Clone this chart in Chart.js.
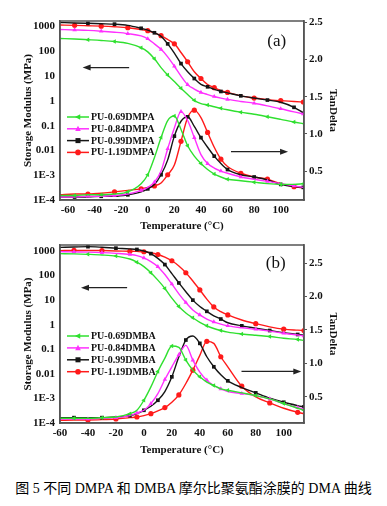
<!DOCTYPE html>
<html>
<head>
<meta charset="utf-8">
<script src="https://cdn.jsdelivr.net/npm/chart.js@4.4.0/dist/chart.umd.min.js"></script>
<style>
  html, body { margin: 0; padding: 0; background: #fff; }
  #wrap { position: relative; width: 387px; height: 506px; }
  canvas { display: block; }
  #caption { position: absolute; left: 0; top: 477px; width: 387px; text-align: center; line-height: 16px;
    font: 14px "Liberation Serif", "Noto Sans CJK SC", serif; color: #000; }
</style>
</head>
<body>
<div id="wrap">
  <canvas id="chartA" width="387" height="233"></canvas>
  <canvas id="chartB" width="387" height="227"></canvas>
  <div id="caption">图 5 不同 DMPA 和 DMBA 摩尔比聚氨酯涂膜的 DMA 曲线</div>
</div>
<script>
// ---- data ----
const seriesA = ["PU-0.69DMPA", "PU-0.84DMPA", "PU-0.99DMPA", "PU-1.19DMPA"];
const seriesB = ["PU-0.69DMBA", "PU-0.84DMBA", "PU-0.99DMBA", "PU-1.19DMBA"];

const xTicks = [-60, -40, -20, 0, 20, 40, 60, 80, 100];
const logTicks = [1e-4, 1e-3, 0.01, 0.1, 1, 10, 100, 1000];
const logTickLabels = ["1E-4", "1E-3", "0.01", "0.1", "1", "10", "100", "1000"];
const tanTicks = [0.5, 1.0, 1.5, 2.0, 2.5];
const tanTickLabels = ["0.5", "1.0", "1.5", "2.0", "2.5"];

// panel (a), DMPA
const tempA = [-66, -55, -45, -35, -25, -15, -5, 0, 5, 10, 15, 20, 25, 30, 35, 40, 45, 50, 55, 60, 70, 80, 90, 100, 110, 117];
const modA069 = [330, 315, 295, 275, 250, 210, 140, 95, 50, 22, 11, 6, 3.2, 1.8, 1.05, 0.78, 0.68, 0.58, 0.5, 0.44, 0.35, 0.29, 0.23, 0.18, 0.14, 0.12];
const modA084 = [760, 730, 700, 650, 590, 520, 420, 320, 200, 120, 60, 25, 10, 4.5, 3.0, 2.2, 1.8, 1.5, 1.3, 1.15, 0.95, 0.8, 0.63, 0.48, 0.36, 0.3];
const modA099 = [1450, 1400, 1350, 1300, 1250, 1120, 850, 720, 560, 400, 200, 85, 32, 15, 8, 4.6, 3.7, 2.9, 2.4, 2.1, 1.6, 1.3, 1.08, 0.88, 0.55, 0.33];
const modA119 = [1150, 1120, 1080, 1040, 980, 900, 760, 680, 560, 430, 300, 200, 90, 38, 15, 8, 4.6, 3.4, 2.6, 2.2, 1.6, 1.3, 1.12, 1.02, 0.95, 0.9];
const tanA069 = [0.17, 0.17, 0.18, 0.18, 0.19, 0.22, 0.33, 0.45, 0.68, 0.95, 1.18, 1.24, 1.06, 0.84, 0.7, 0.6, 0.52, 0.46, 0.42, 0.39, 0.37, 0.35, 0.33, 0.32, 0.32, 0.33];
const tanA084 = [0.15, 0.15, 0.16, 0.16, 0.17, 0.19, 0.24, 0.28, 0.35, 0.5, 0.8, 1.08, 1.3, 1.18, 0.95, 0.72, 0.6, 0.54, 0.5, 0.47, 0.42, 0.39, 0.36, 0.33, 0.3, 0.28];
const tanA099 = [0.15, 0.15, 0.15, 0.16, 0.16, 0.18, 0.22, 0.26, 0.32, 0.45, 0.65, 0.97, 1.17, 1.23, 1.1, 0.95, 0.82, 0.7, 0.6, 0.52, 0.45, 0.42, 0.38, 0.32, 0.29, 0.28];
const tanA119 = [0.18, 0.19, 0.19, 0.2, 0.22, 0.24, 0.26, 0.28, 0.3, 0.34, 0.45, 0.58, 0.9, 1.22, 1.32, 1.22, 1.02, 0.82, 0.66, 0.56, 0.47, 0.42, 0.39, 0.33, 0.29, 0.27];

// panel (b), DMBA
const tempB = [-60, -50, -40, -30, -20, -10, -5, 0, 5, 10, 15, 20, 25, 30, 35, 40, 45, 50, 55, 60, 70, 80, 90, 100, 110, 114.5];
const modB069 = [780, 760, 730, 690, 620, 470, 350, 230, 130, 65, 30, 12, 5.5, 3, 1.9, 1.25, 0.9, 0.7, 0.58, 0.5, 0.42, 0.37, 0.33, 0.28, 0.25, 0.23];
const modB084 = [940, 920, 900, 860, 800, 720, 650, 520, 370, 230, 110, 45, 18, 8, 4, 2.5, 1.7, 1.3, 1.05, 0.9, 0.75, 0.65, 0.55, 0.45, 0.38, 0.35];
const modB099 = [1400, 1450, 1500, 1420, 1300, 1220, 1150, 1000, 780, 500, 280, 120, 50, 22, 10, 5.5, 3.5, 2.3, 1.7, 1.2, 0.9, 0.72, 0.58, 0.47, 0.4, 0.37];
const modB119 = [1030, 1050, 1050, 1040, 1000, 980, 960, 930, 850, 720, 560, 400, 245, 130, 60, 26, 11, 5.3, 3.4, 2.5, 1.55, 1.1, 0.82, 0.66, 0.6, 0.58];
const tanB069 = [0.18, 0.18, 0.18, 0.19, 0.2, 0.25, 0.3, 0.45, 0.65, 0.88, 1.08, 1.26, 1.24, 1.05, 0.9, 0.8, 0.72, 0.67, 0.62, 0.6, 0.56, 0.52, 0.47, 0.4, 0.33, 0.3];
const tanB084 = [0.17, 0.17, 0.17, 0.18, 0.19, 0.22, 0.26, 0.3, 0.4, 0.55, 0.76, 0.95, 1.13, 1.27, 1.05, 0.87, 0.75, 0.67, 0.62, 0.58, 0.55, 0.52, 0.47, 0.4, 0.34, 0.32];
const tanB099 = [0.19, 0.19, 0.19, 0.19, 0.2, 0.22, 0.25, 0.3, 0.36, 0.45, 0.58, 0.8, 1.1, 1.35, 1.41, 1.3, 1.1, 0.95, 0.83, 0.74, 0.64, 0.56, 0.48, 0.42, 0.37, 0.35];
const tanB119 = [0.15, 0.155, 0.155, 0.16, 0.17, 0.19, 0.2, 0.22, 0.25, 0.29, 0.34, 0.42, 0.53, 0.7, 0.9, 1.12, 1.33, 1.3, 1.1, 0.95, 0.66, 0.5, 0.41, 0.33, 0.27, 0.25];

// ---- styles ----
const colors = ["#2fe02f", "#ff30ff", "#151515", "#ff1a1a"];
const markers = ["triangle", "triangle", "rect", "circle"];
const markerRot = [270, 0, 0, 0];
const FONT = "'Liberation Serif', 'Times New Roman', serif";

function drawMarker(ctx, i, x, y, r) {
  ctx.save();
  ctx.fillStyle = colors[i];
  ctx.translate(x, y);
  ctx.rotate(markerRot[i] * Math.PI / 180);
  ctx.beginPath();
  if (markers[i] === "circle") ctx.arc(0, 0, r, 0, Math.PI * 2);
  else if (markers[i] === "rect") ctx.rect(-r * 0.9, -r * 0.9, r * 1.8, r * 1.8);
  else { ctx.moveTo(0, -r * 1.1); ctx.lineTo(r, r * 0.8); ctx.lineTo(-r, r * 0.8); ctx.closePath(); }
  ctx.fill();
  ctx.restore();
}

function arrow(ctx, x0, x1, y) {
  const dir = Math.sign(x1 - x0);
  ctx.strokeStyle = "#222"; ctx.fillStyle = "#222"; ctx.lineWidth = 1.2;
  ctx.beginPath(); ctx.moveTo(x0, y); ctx.lineTo(x1 - dir * 6, y); ctx.stroke();
  ctx.beginPath(); ctx.moveTo(x1, y); ctx.lineTo(x1 - dir * 8, y - 3); ctx.lineTo(x1 - dir * 8, y + 3); ctx.closePath(); ctx.fill();
}

// frame, arrows, panel label and legend
const decor = {
  id: "decor",
  afterDatasetsDraw(chart, args, o) {
    const { ctx, chartArea: a, scales } = chart;
    ctx.save();
    ctx.strokeStyle = "#555"; ctx.lineWidth = 1.5;
    ctx.strokeRect(a.left, a.top, a.width, a.height);

    const X = (v) => scales.x.getPixelForValue(v);
    arrow(ctx, X(o.leftArrow[0]), X(o.leftArrow[1]), scales.y.getPixelForValue(o.leftArrow[2]));
    arrow(ctx, X(o.rightArrow[0]), X(o.rightArrow[1]), scales.y1.getPixelForValue(o.rightArrow[2]));

    ctx.fillStyle = "#111";
    ctx.font = "17px " + FONT;
    ctx.textAlign = "center"; ctx.textBaseline = "middle";
    ctx.fillText(o.label, X(o.labelAt[0]), scales.y1.getPixelForValue(o.labelAt[1]));

    ctx.font = "bold 10px " + FONT;
    ctx.textAlign = "left";
    o.names.forEach((name, i) => {
      const y = a.top + o.legendTop + i * o.legendGap;
      const lx = a.left + 7;
      ctx.strokeStyle = colors[i]; ctx.lineWidth = 1.5;
      ctx.beginPath(); ctx.moveTo(lx, y); ctx.lineTo(lx + 22, y); ctx.stroke();
      drawMarker(ctx, i, lx + 11, y, 2.8);
      ctx.fillStyle = "#111";
      ctx.fillText(name, lx + 24, y + 0.5);
    });
    ctx.restore();
  }
};

function makeSets(temps, mods, tans) {
  const sets = [];
  [mods, tans].forEach((group, g) => {
    group.forEach((vals, i) => {
      sets.push({
        data: temps.map((t, k) => ({ x: t, y: vals[k] })),
        yAxisID: g === 0 ? "y" : "y1",
        borderColor: colors[i],
        backgroundColor: colors[i],
        borderWidth: 1.4,
        cubicInterpolationMode: "monotone",
        pointStyle: markers[i],
        rotation: markerRot[i],
        pointRadius: (c) => (c.dataIndex % 2 === (i + g) % 2 && c.dataIndex > 0 ? 2.6 : 0),
        pointBorderWidth: 0
      });
    });
  });
  return sets;
}

function makeChart(id, p) {
  const tickFont = { family: FONT, size: 11, weight: "bold" };
  return new Chart(document.getElementById(id), {
    type: "line",
    data: { datasets: makeSets(p.temps, p.mods, p.tans) },
    options: {
      responsive: false, animation: false, devicePixelRatio: 1,
      layout: { padding: { top: p.padTop, left: 0, right: 0, bottom: 0 } },
      plugins: { legend: { display: false }, tooltip: { enabled: false }, decor: p.decor },
      scales: {
        x: {
          type: "linear", min: p.xMin, max: p.xMax,
          afterBuildTicks: (s) => { s.ticks = xTicks.map((v) => ({ value: v })); },
          afterFit: (s) => { s.height = p.xHeight; },
          ticks: { font: tickFont, color: "#111", padding: 4, maxRotation: 0 },
          grid: { drawOnChartArea: false, drawTicks: false },
          border: { color: "#555", width: 1.5 },
          title: { display: true, text: "Temperature (°C)", color: "#111", font: tickFont, padding: { top: 0, bottom: p.xTitlePad } }
        },
        y: {
          type: "logarithmic", position: "left", min: 1e-4, max: p.yMax,
          afterBuildTicks: (s) => { s.ticks = logTicks.map((v) => ({ value: v })); },
          afterFit: (s) => { s.width = 60; },
          ticks: { font: tickFont, color: "#111", padding: 5, callback: (v, i) => logTickLabels[i] },
          grid: { drawOnChartArea: false, drawTicks: false },
          border: { color: "#555", width: 1.5 },
          title: { display: true, text: "Storage Modulus (MPa)", color: "#111", font: tickFont, padding: { top: 22 } }
        },
        y1: {
          type: "linear", position: "right", min: p.tMin, max: p.tMax,
          afterBuildTicks: (s) => { s.ticks = tanTicks.map((v) => ({ value: v })); },
          afterFit: (s) => { s.width = 83; },
          ticks: { font: tickFont, color: "#111", padding: 2, callback: (v, i) => tanTickLabels[i] },
          grid: { drawOnChartArea: false, drawTicks: true, tickLength: 3, color: "#555" },
          border: { color: "#555", width: 1.5 },
          title: { display: true, text: "TanDelta", color: "#111", font: tickFont, padding: { top: 48 } }
        }
      }
    },
    plugins: [decor]
  });
}

makeChart("chartA", {
  temps: tempA, mods: [modA069, modA084, modA099, modA119], tans: [tanA069, tanA084, tanA099, tanA119],
  xMin: -66, xMax: 117.5, yMax: 1675, tMin: 0.11, tMax: 2.52,
  padTop: 21, xHeight: 33, xTitlePad: 0,
  decor: { names: seriesA, legendTop: 96, legendGap: 11.8, label: "(a)", labelAt: [97, 2.25],
    leftArrow: [-14, -49, 22], rightArrow: [62.6, 105.5, 0.76] }
});

makeChart("chartB", {
  temps: tempB, mods: [modB069, modB084, modB099, modB119], tans: [tanB069, tanB084, tanB099, tanB119],
  xMin: -60, xMax: 114.5, yMax: 1750, tMin: 0.11, tMax: 2.77,
  padTop: 12, xHeight: 37, xTitlePad: 3,
  decor: { names: seriesB, legendTop: 91, legendGap: 11.9, label: "(b)", labelAt: [94.3, 2.49],
    leftArrow: [-12, -45, 32], rightArrow: [69.8, 112.6, 0.88] }
});
</script>
</body>
</html>
